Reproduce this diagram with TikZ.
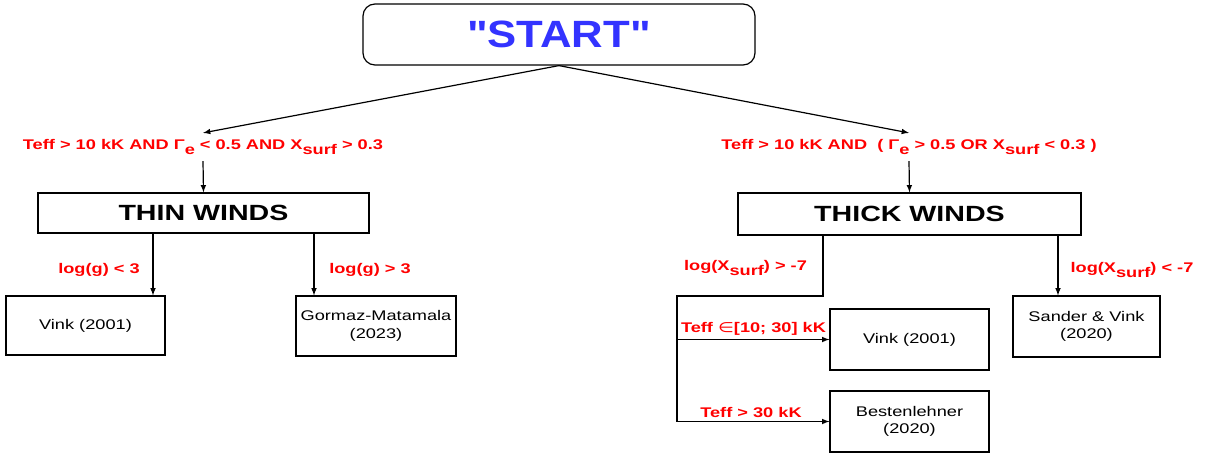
\documentclass[tikz,border=0pt]{standalone}
\usepackage{fontspec}
\setmainfont{Liberation Sans}[FakeStretch=1.3]
\newfontfamily\startfont{Liberation Sans}[FakeStretch=1.15]
\newfontfamily\symfont{DejaVu Sans}[FakeStretch=1.3]
\usepackage{xcolor}
\usetikzlibrary{arrows}
\tikzset{>=latex}
\definecolor{condred}{HTML}{FF0000}
\definecolor{startblue}{HTML}{3333FF}
\newcommand\lowsub[1]{\raisebox{-0.55ex}{#1}}

\begin{document}
\begin{tikzpicture}[x=0.75pt,y=-0.75pt]
        % boxes placed by their centre, sizes in px of the sketch
        \tikzstyle{every node}=[inner sep=0pt, align=center]
        \tikzstyle{model}=[rectangle, draw=black, line width=0.9pt, font=\fontsize{10.5}{13}\selectfont]
        \tikzstyle{regime}=[rectangle, draw=black, line width=0.9pt, font=\bfseries\fontsize{16.5}{20}\selectfont]
        \tikzstyle{cond}=[text=condred, font=\bfseries\fontsize{10.5}{13}\selectfont]
        \tikzstyle{link}=[->, line width=0.9pt]
        \useasboundingbox (0,0) rectangle (1208,454);
        \node[rectangle, draw=black, rounded corners=9pt, line width=0.9pt, minimum width=392*0.75pt, minimum height=61*0.75pt, text=startblue, font=\startfont\bfseries\fontsize{28.5}{34}\selectfont] (start) at (559,34.5) {"START"};
        % the two wind regimes
        \node[cond, inner ysep=5pt] (condL) at (203,147) {Teff > 10 kK AND Γ\lowsub{e} < 0.5 AND X\lowsub{surf} > 0.3};
        \node[cond, inner ysep=5pt] (condR) at (909,147) {Teff > 10 kK AND\ \ ( Γ\lowsub{e} > 0.5 OR X\lowsub{surf} < 0.3 )};
        \draw[link] (start.south) -- (condL.north);
        \draw[link] (start.south) -- (condR.north);
        \node[regime, minimum width=331*0.75pt, minimum height=40*0.75pt] (thin) at (203.5,213) {THIN WINDS};
        \node[regime, minimum width=343*0.75pt, minimum height=42*0.75pt] (thick) at (909.5,214) {THICK WINDS};
        \draw[link] (condL.south) -- (thin.north);
        \draw[link] (condR.south) -- (thick.north);
        % thin winds
        \node[model, minimum width=159*0.75pt, minimum height=59*0.75pt] (vinkA) at (85.5,325.5) {Vink (2001)};
        \node[model, minimum width=160*0.75pt, minimum height=60*0.75pt] (gormaz) at (376,326) {Gormaz-Matamala\\(2023)};
        \coordinate (gA) at (153,0);
        \coordinate (gB) at (314,0);
        \draw[link] (thin.south -| gA) -- (vinkA.north -| gA);
        \draw[link] (thin.south -| gB) -- (gormaz.north -| gB);
        \node[cond] (lgA) at (99,270) {log(g) < 3};
        \node[cond] (lgB) at (370,270) {log(g) > 3};
        % thick winds
        \node[model, minimum width=159*0.75pt, minimum height=61*0.75pt] (vinkB) at (909.5,339.5) {Vink (2001)};
        \node[model, minimum width=159*0.75pt, minimum height=61*0.75pt] (besten) at (909.5,421.5) {Bestenlehner\\(2020)};
        \node[model, minimum width=147*0.75pt, minimum height=61*0.75pt] (sander) at (1086.5,326.5) {Sander \& Vink\\(2020)};
        \coordinate (xA) at (823,0);
        \coordinate (xB) at (1058,0);
        \coordinate (split) at (677,296);
        \draw[line width=0.9pt] (thick.south -| xA) |- (split) -- (split |- besten.west);
        \draw[link] (split |- vinkB.west) -- (vinkB.west);
        \draw[link] (split |- besten.west) -- (besten.west);
        \draw[link] (thick.south -| xB) -- (sander.north -| xB);
        \node[cond] (lxA) at (745.5,268) {log(X\lowsub{surf}) > -7};
        \node[cond] (lxB) at (1132,270) {log(X\lowsub{surf}) < -7};
        \node[cond] (tA) at (753.5,329) {Teff {\symfont\mdseries ∈}[10; 30] kK};
        \node[cond] (tB) at (751,413) {Teff > 30 kK};
\end{tikzpicture}
\end{document}
